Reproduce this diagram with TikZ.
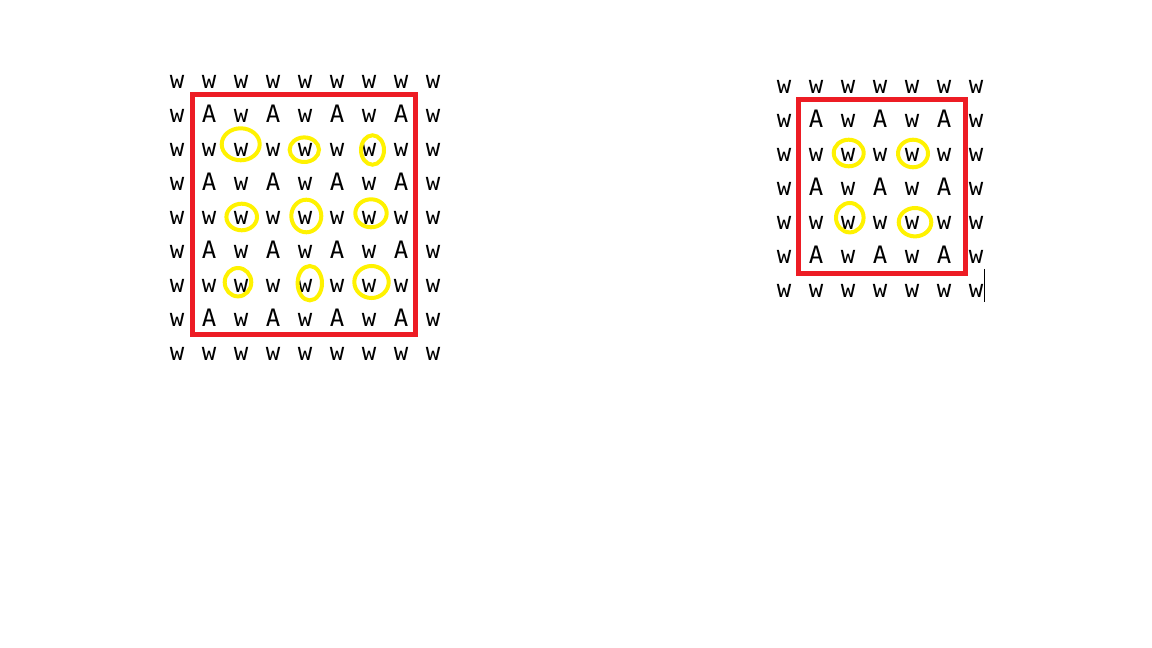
\documentclass[tikz,border=0pt]{standalone}
\usepackage{fontspec}
\setmonofont{DejaVu Sans Mono}
\definecolor{boxred}{RGB}{237,28,36}
\definecolor{ringyellow}{RGB}{255,242,0}
\begin{document}
\begin{tikzpicture}[x=0.75pt,y=0.75pt,yscale=-1,xscale=1,
  cell/.style={anchor=base,inner sep=0.75pt,font=\ttfamily\fontsize{18}{18}\selectfont},
  frame/.style={draw=boxred,line width=3.75pt},
  ring/.style={draw=ringyellow,line width=3pt}]
\useasboundingbox (0,0) rectangle (1152,648);
% left grid 9x9
\foreach \r in {0,...,8} \foreach \c in {0,...,8} {
  \node[cell] (L-\r-\c) at ({177+32*\c},{88.5+34*\r}) {\ifodd\r\ifodd\c A\else w\fi\else w\fi};
}
% right grid 7x7
\foreach \r in {0,...,6} \foreach \c in {0,...,6} {
  \node[cell] (R-\r-\c) at ({784+32*\c},{93.5+34*\r}) {\ifodd\r\ifodd\c A\else w\fi\else w\fi};
}
% red frames
\draw[frame] (192.5,95) rectangle (415,335);
\draw[frame] (798.5,100) rectangle (965,273.5);
% yellow rings
\foreach \x/\y/\a/\b in {240.7/144.3/19/16, 304.3/149.7/14.7/12.3, 372.5/150/11.5/14.7,
    241.7/217/15.3/13.3, 306.3/216/15/16.3, 371/213.3/15.7/14,
    238/282.2/13.3/14.2, 309.8/283.2/12.2/17.2, 371.5/282/17.2/16,
    848.7/153/15/13.3, 913/153.5/15/13.8, 849.8/217.7/13.8/14.7, 915/222.2/16.3/14.2}
  \draw[ring] (\x,\y) ellipse [x radius=\a, y radius=\b];
% text cursor
\draw[line width=0.75pt] (984.3,269) -- (984.3,302);
\end{tikzpicture}
\end{document}
